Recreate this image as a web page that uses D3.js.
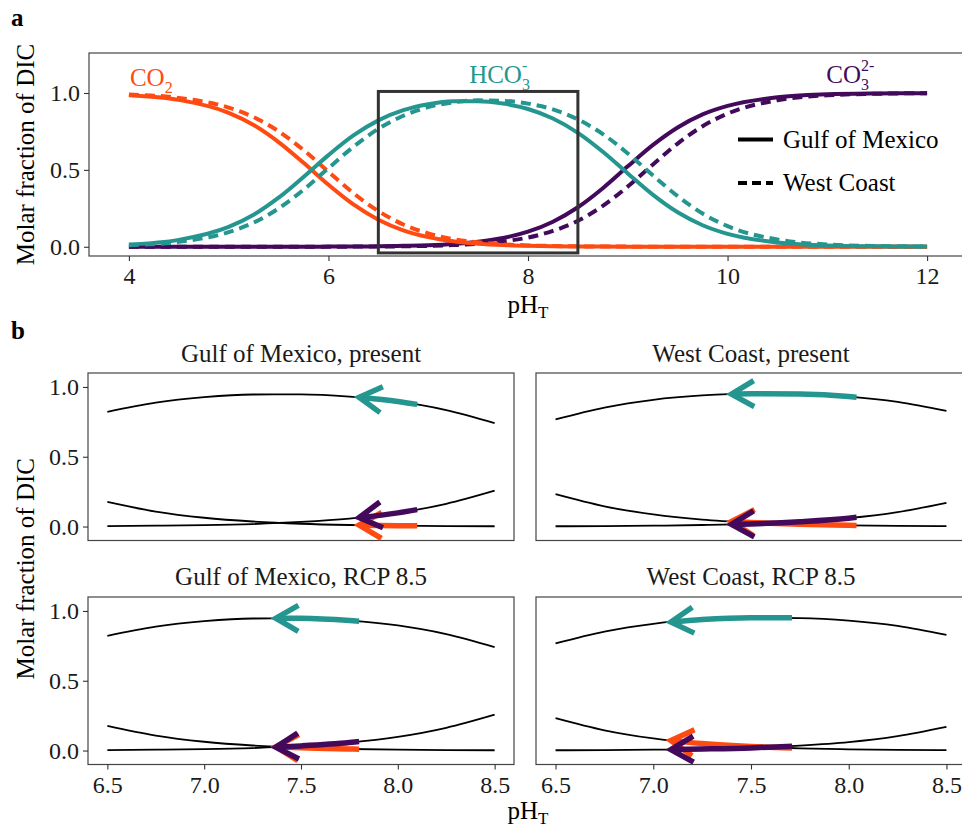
<!DOCTYPE html>
<html><head><meta charset="utf-8">
<script src="https://cdn.jsdelivr.net/npm/d3@7"></script>
<style>
body{margin:0;background:#fff;}
svg{display:block;font-family:"Liberation Serif","Times New Roman",serif;}
</style></head>
<body><svg id="c" width="962" height="828"></svg>
<script>
// ---------------- DATA ----------------
const pH = [4,4.5,5,5.25,5.5,5.75,6,6.25,6.5,6.75,7,7.25,7.5,7.75,8,8.25,8.5,8.75,9,9.25,9.5,9.75,10,10.5,11,11.5,12];
const gulfCO2  = [0.985,0.955,0.871,0.792,0.681,0.546,0.403,0.275,0.176,0.107,0.063,0.036,0.020,0.011,0.006,0.003,0.002,0.001,0,0,0,0,0,0,0,0,0];
const gulfHCO3 = [0.015,0.045,0.129,0.208,0.319,0.454,0.596,0.724,0.822,0.888,0.927,0.946,0.947,0.931,0.896,0.834,0.741,0.618,0.477,0.339,0.224,0.140,0.084,0.028,0.009,0.003,0.001];
const gulfCO3  = [0,0,0,0,0,0,0.001,0.001,0.003,0.006,0.010,0.018,0.033,0.057,0.098,0.163,0.257,0.381,0.523,0.661,0.776,0.861,0.916,0.972,0.991,0.997,0.999];
const westCO2  = [0.990,0.968,0.905,0.843,0.751,0.629,0.488,0.349,0.232,0.145,0.087,0.050,0.029,0.016,0.009,0.005,0.003,0.001,0.001,0,0,0,0,0,0,0,0];
const westHCO3 = [0.010,0.032,0.095,0.157,0.249,0.371,0.511,0.650,0.767,0.852,0.908,0.939,0.952,0.949,0.931,0.893,0.828,0.733,0.607,0.465,0.329,0.216,0.134,0.047,0.015,0.005,0.002];
const westCO3  = [0,0,0,0,0,0,0,0.001,0.002,0.003,0.006,0.011,0.019,0.035,0.060,0.103,0.169,0.266,0.392,0.534,0.671,0.784,0.866,0.953,0.985,0.995,0.999];

const regions = ["Gulf of Mexico","West Coast"];
const species = ["CO2","HCO3","CO3"];
const speciesColors = ["#FF4A12","#24968F","#430A5C"];

const xTicksTop = [4,6,8,10,12];
const yTicks = [0,0.5,1.0];
const xTicksB = [6.5,7.0,7.5,8.0,8.5];

// panel b (facets): arrows from -> to pH, with fractions of each species
const facetTitles = ["Gulf of Mexico, present","West Coast, present","Gulf of Mexico, RCP 8.5","West Coast, RCP 8.5"];
const facetRegion = [0,1,0,1];
const arrowFromPH = [8.10,8.04,7.80,7.71];
const arrowToPH   = [7.80,7.40,7.37,7.09];
const arrowFromCO2  = [0.005,0.008,0.010,0.018];
const arrowToCO2    = [0.010,0.036,0.027,0.071];
const arrowFromHCO3 = [0.875,0.926,0.926,0.951];
const arrowToHCO3   = [0.926,0.949,0.948,0.921];
const arrowFromCO3  = [0.121,0.066,0.064,0.031];
const arrowToCO3    = [0.064,0.015,0.024,0.007];

// ---------------- BUILD ----------------
const series = {
  "Gulf of Mexico": [gulfCO2,gulfHCO3,gulfCO3],
  "West Coast": [westCO2,westHCO3,westCO3]
};
const svg = d3.select("#c");
const FS = 25, TICKFS = 24, TXT = "#1a1a1a";

function styleAxis(g){
  g.select(".domain").remove();
  g.selectAll(".tick line").attr("stroke","#333").attr("stroke-width",1.1);
  g.selectAll(".tick text").attr("fill",TXT).style("font-size",TICKFS+"px").style("font-family","Liberation Serif, serif");
}

// ---- panel a ----
const xA = d3.scaleLinear().domain([3.6,12.4]).range([89,967]);
const yA = d3.scaleLinear().domain([-0.06,1.26]).range([256,53]);

svg.append("text").attr("x",11).attr("y",26).attr("font-weight","bold").style("font-size",FS+"px").attr("fill","#000").text("a");

const gA = svg.append("g");
gA.append("rect").attr("x",xA.range()[0]).attr("y",yA.range()[1])
  .attr("width",xA.range()[1]-xA.range()[0]).attr("height",yA.range()[0]-yA.range()[1])
  .attr("fill","none").attr("stroke","#444").attr("stroke-width",1.2);

const lineA = d3.line().x(d=>xA(d[0])).y(d=>yA(d[1])).curve(d3.curveMonotoneX);
const drawOrder = [2,0,1];
drawOrder.forEach(si=>{
  regions.forEach((r,ri)=>{
    const pts = pH.map((p,i)=>[p,series[r][si][i]]);
    gA.append("path").attr("d",lineA(pts)).attr("fill","none")
      .attr("stroke",speciesColors[si]).attr("stroke-width",4)
      .attr("stroke-dasharray", ri===1 ? "10,6" : null);
  });
});

// highlight rectangle
gA.append("rect").attr("x",xA(6.5)).attr("y",yA(1.01)).attr("width",xA(8.5)-xA(6.5))
  .attr("height",yA(-0.04)-yA(1.01)).attr("fill","none").attr("stroke","#333").attr("stroke-width",3);

// axes
gA.append("g").attr("transform",`translate(${xA.range()[0]},0)`)
  .call(d3.axisLeft(yA).tickValues(yTicks).tickFormat(d3.format(".1f")).tickSize(5).tickPadding(4)).call(styleAxis);
gA.append("g").attr("transform",`translate(0,${yA.range()[0]})`)
  .call(d3.axisBottom(xA).tickValues(xTicksTop).tickFormat(d3.format("d")).tickSize(5).tickPadding(6)).call(styleAxis);

// species labels (one text element, sub and sup stacked)
function chem(g,x,y,base,sub,sup,color){
  const t = g.append("text").attr("x",x).attr("y",y).attr("fill",color).style("font-size",FS+"px");
  t.append("tspan").text(base);
  const s = t.append("tspan").attr("dy",7).style("font-size","16px").text(sub);
  if(sup){
    const w = s.node().getComputedTextLength();
    t.append("tspan").attr("dx",-w).attr("dy",-19).style("font-size","16px").text(sup);
  }
}
chem(gA,xA(4.01),yA(1.045),"CO","2",null,speciesColors[0]);
chem(gA,xA(7.41),yA(1.065),"HCO","3","-",speciesColors[1]);
chem(gA,xA(10.99),yA(1.065),"CO","3","2-",speciesColors[2]);

// legend
const legY = [139.5,183];
regions.forEach((r,i)=>{
  gA.append("line").attr("x1",738).attr("x2",773).attr("y1",legY[i]).attr("y2",legY[i])
    .attr("stroke","#000").attr("stroke-width",4).attr("stroke-dasharray", i===1 ? "9,5" : null);
  gA.append("text").attr("x",783).attr("y",legY[i]+8).attr("fill","#000").style("font-size",FS+"px").text(r);
});

// axis titles
function pHTitle(x,y){
  const t = svg.append("text").attr("x",x).attr("y",y).attr("fill","#000").style("font-size",FS+"px").attr("text-anchor","middle");
  t.append("tspan").text("pH");
  t.append("tspan").attr("dy",5).style("font-size","17px").text("T");
}
pHTitle(528,313);
svg.append("text").attr("transform",`translate(34,${(yA.range()[0]+yA.range()[1])/2}) rotate(-90)`)
  .attr("text-anchor","middle").attr("fill","#000").style("font-size",FS+"px").text("Molar fraction of DIC");

// ---- panel b ----
svg.append("text").attr("x",11).attr("y",339).attr("font-weight","bold").style("font-size",FS+"px").attr("fill","#000").text("b");

const colX = [[88,514],[536,966]];
const rowY = [[373,540.5],[597,764.5]];
const stripBase = [362,585];

facetTitles.forEach((title,fi)=>{
  const col = fi%2, row = Math.floor(fi/2);
  const x = d3.scaleLinear().domain([6.4,8.6]).range(colX[col]);
  const y = d3.scaleLinear().domain([-0.1,1.1]).range([rowY[row][1],rowY[row][0]]);
  const g = svg.append("g");
  g.append("rect").attr("x",colX[col][0]).attr("y",rowY[row][0]).attr("width",colX[col][1]-colX[col][0])
    .attr("height",rowY[row][1]-rowY[row][0]).attr("fill","none").attr("stroke","#444").attr("stroke-width",1.2);
  g.append("text").attr("x",(colX[col][0]+colX[col][1])/2).attr("y",stripBase[row]).attr("text-anchor","middle")
    .attr("fill",TXT).style("font-size",FS+"px").text(title);

  const reg = regions[facetRegion[fi]];
  const line = d3.line().x(d=>x(d[0])).y(d=>y(d[1])).curve(d3.curveMonotoneX);
  [0,1,2].forEach(si=>{
    const pts = pH.map((p,i)=>[p,series[reg][si][i]]).filter(d=>d[0]>=6.5&&d[0]<=8.5);
    g.append("path").attr("d",line(pts)).attr("fill","none").attr("stroke","#000").attr("stroke-width",1.8);
  });

  // arrows
  const fromV = [arrowFromCO2[fi],arrowFromHCO3[fi],arrowFromCO3[fi]];
  const toV = [arrowToCO2[fi],arrowToHCO3[fi],arrowToCO3[fi]];
  [1,0,2].forEach(si=>{
    const p0 = arrowFromPH[fi], p1 = arrowToPH[fi];
    const mids = pH.map((p,i)=>[p,series[reg][si][i]]).filter(d=>d[0]<p0-0.02&&d[0]>p1+0.02);
    const sorted = [[p1,toV[si]],...mids,[p0,fromV[si]]];
    g.append("path").attr("d",line(sorted)).attr("fill","none")
      .attr("stroke",speciesColors[si]).attr("stroke-width",5.5).attr("stroke-linecap","butt");
    // arrowhead at the low-pH end (the tip)
    const tx = x(p1), ty = y(toV[si]);
    const nx = x(sorted[1][0]), ny = y(sorted[1][1]);
    const ang = Math.atan2(ny-ty, nx-tx);
    const len = 26, a = Math.PI/6;
    const pA = [tx+len*Math.cos(ang+a), ty+len*Math.sin(ang+a)];
    const pB = [tx+len*Math.cos(ang-a), ty+len*Math.sin(ang-a)];
    g.append("path").attr("d",`M${pA[0]},${pA[1]}L${tx},${ty}L${pB[0]},${pB[1]}`)
      .attr("fill","none").attr("stroke",speciesColors[si]).attr("stroke-width",5.5)
      .attr("stroke-linejoin","miter").attr("stroke-linecap","butt");
  });

  if(col===0){
    g.append("g").attr("transform",`translate(${colX[col][0]},0)`)
      .call(d3.axisLeft(y).tickValues(yTicks).tickFormat(d3.format(".1f")).tickSize(5).tickPadding(4)).call(styleAxis);
  }
  if(row===1){
    g.append("g").attr("transform",`translate(0,${rowY[row][1]})`)
      .call(d3.axisBottom(x).tickValues(xTicksB).tickFormat(d3.format(".1f")).tickSize(5).tickPadding(6)).call(styleAxis);
  }
});

pHTitle(528,819);
svg.append("text").attr("transform",`translate(34,${(rowY[0][0]+rowY[1][1])/2}) rotate(-90)`)
  .attr("text-anchor","middle").attr("fill","#000").style("font-size",FS+"px").text("Molar fraction of DIC");
</script>
</body></html>
